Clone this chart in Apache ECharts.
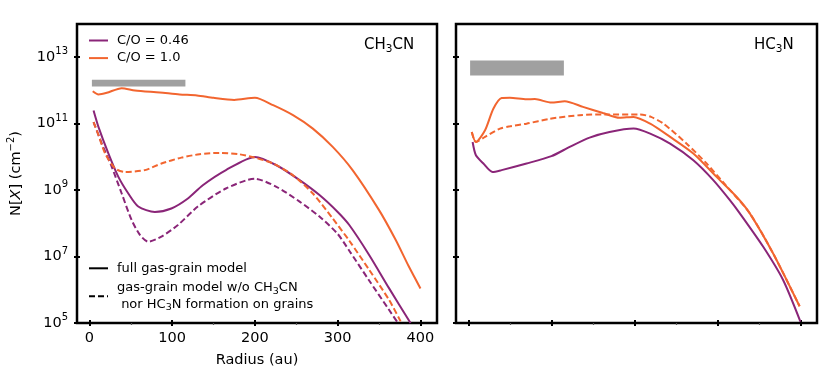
<!DOCTYPE html>
<html lang="en">
<head>
<meta charset="UTF-8">
<title>CH3CN / HC3N column densities</title>
<script src="https://cdn.jsdelivr.net/npm/echarts@6/dist/echarts.min.js"></script>
<style>
  html, body { margin: 0; padding: 0; background: #fff; }
  #chart { width: 830px; height: 378px; }
</style>
</head>
<body>
<div id="chart"></div>
<script>
// values: radius in au, column density in cm^-2

// CH3CN panel
var ch3cnLowR = [5, 11, 23, 35, 47, 59, 79, 99, 119, 137, 165, 200, 226, 254, 278, 300, 314, 338, 362, 388];
var ch3cnLowN = [2.5e11, 7.9e10, 1.26e10, 2.5e9, 7.9e8, 3.2e8, 2.2e8, 2.8e8, 5.6e8, 1.4e9, 4.0e9, 1.0e10, 5.6e9, 2.0e9, 7.1e8, 2.2e8, 8.9e7, 1.12e7, 1.12e6, 1.0e5];
var ch3cnLowNoGrainR = [5, 15, 27, 39, 51, 61, 71, 87, 107, 131, 165, 200, 226, 254, 278, 300, 314, 338, 362, 372];
var ch3cnLowNoGrainN = [1.12e11, 2.5e10, 5.0e9, 7.9e8, 1.26e8, 4.5e7, 2.8e7, 4.0e7, 8.9e7, 3.2e8, 1.12e9, 2.2e9, 1.26e9, 4.5e8, 1.6e8, 4.8e7, 1.5e7, 1.9e6, 2.5e5, 1.07e5];
var ch3cnHighR = [4, 11, 21, 39, 55, 85, 109, 130, 150, 175, 200, 222, 246, 270, 294, 318, 350, 370, 386, 400];
var ch3cnHighN = [9.5e11, 7.6e11, 8.5e11, 1.17e12, 1.0e12, 8.7e11, 7.6e11, 7.1e11, 6.0e11, 5.2e11, 6.0e11, 3.6e11, 1.8e11, 7.1e10, 2.0e10, 4.0e9, 2.5e8, 3.2e7, 5.0e6, 1.1e6];
var ch3cnHighNoGrainR = [5, 11, 19, 31, 43, 67, 87, 111, 133, 157, 181, 200, 222, 246, 270, 294, 314, 338, 362, 376];
var ch3cnHighNoGrainN = [1.12e11, 4.5e10, 1.26e10, 4.5e9, 3.5e9, 4.0e9, 6.3e9, 9.5e9, 1.2e10, 1.32e10, 1.2e10, 9.5e9, 6.3e9, 2.8e9, 7.9e8, 1.4e8, 3.0e7, 4.0e6, 5.0e5, 1.12e5];

// HC3N panel
var hc3nLowR = [5, 9, 18, 29, 40, 70, 100, 122, 146, 170, 199, 219, 243, 271, 295, 315, 327, 355, 379, 400];
var hc3nLowN = [2.8e10, 1.12e10, 6.3e9, 3.5e9, 4.0e9, 6.3e9, 1.05e10, 2.0e10, 3.8e10, 5.6e10, 7.1e10, 5.0e10, 2.5e10, 7.9e9, 2.0e9, 5.0e8, 2.0e8, 2.0e7, 2.0e6, 1.1e5];
var hc3nHighR = [4, 9, 20, 30, 40, 50, 70, 80, 100, 116, 138, 162, 182, 199, 219, 243, 271, 299, 323, 339, 367, 399];
var hc3nHighN = [5.6e10, 2.8e10, 6.3e10, 2.8e11, 5.9e11, 6.0e11, 5.4e11, 5.5e11, 4.3e11, 4.7e11, 3.2e11, 2.1e11, 1.5e11, 1.6e11, 1.0e11, 4.0e10, 1.26e10, 2.5e9, 6.3e8, 2.0e8, 1.26e7, 3.2e5];
var hc3nHighNoGrainR = [4, 9, 20, 38, 50, 70, 98, 134, 166, 207, 220, 235, 263, 287, 310, 339, 367, 399];
var hc3nHighNoGrainN = [5.6e10, 2.8e10, 4.0e10, 7.1e10, 8.3e10, 1.0e11, 1.4e11, 1.8e11, 1.9e11, 1.9e11, 1.6e11, 1.0e11, 2.5e10, 6.3e9, 1.4e9, 2.0e8, 1.26e7, 3.2e5];

// observed ranges (grey bars): [rFrom, rTo, nLow, nHigh]
var ch3cnObs = [3, 116, 1.32e12, 2.1e12];
var hc3nObs = [2, 115, 2.8e12, 7.9e12];

var xTicks = [0, 100, 200, 300, 400];
var xMinorTicks = [50, 150, 250, 350];
var yTicks = [1e5, 1e7, 1e9, 1e11, 1e13];

var PURPLE = '#8a2578';
var ORANGE = '#f2652f';
var FONT = 'DejaVu Sans';

function pairs(r, n) {
    return r.map(function (x, i) { return [x, n[i]]; });
}

function xAxesFor(g, withLabels) {
    var base = {
        type: 'value', gridIndex: g, min: -15, max: 420, position: 'bottom',
        splitLine: { show: false }, axisLine: { show: false, onZero: false }
    };
    return [
        Object.assign({}, base, {
            axisTick: { inside: false, length: 3, customValues: xTicks, lineStyle: { color: '#000', width: 2 } },
            axisLabel: { show: withLabels, customValues: xTicks, color: '#000', fontFamily: FONT, fontSize: 14.5, margin: 8 },
            name: withLabels ? 'Radius (au)' : '', nameLocation: 'middle', nameGap: 30,
            nameTextStyle: { color: '#000', fontFamily: FONT, fontSize: 14.5 }
        }),
        Object.assign({}, base, {
            axisTick: { inside: true, length: 3, customValues: xTicks, lineStyle: { color: '#000', width: 2 } },
            axisLabel: { show: false }
        }),
        Object.assign({}, base, {
            axisTick: { inside: false, length: 2, customValues: xMinorTicks, lineStyle: { color: '#555', width: 1.2 } },
            axisLabel: { show: false }
        })
    ];
}

function yAxesFor(g, withLabels) {
    var base = {
        type: 'log', logBase: 10, gridIndex: g, min: 1e5, max: 1e14, position: 'left',
        splitLine: { show: false }, axisLine: { show: false, onZero: false }
    };
    return [
        Object.assign({}, base, {
            axisTick: { inside: false, length: 3, customValues: yTicks, lineStyle: { color: '#000', width: 2 } },
            axisLabel: {
                show: withLabels, customValues: yTicks, margin: 9,
                formatter: function (v) {
                    return '{b|10}{e|' + Math.round(Math.log10(v)) + '}';
                },
                rich: {
                    b: { fontSize: 14.5, fontFamily: FONT, color: '#000' },
                    e: { fontSize: 10, fontFamily: FONT, color: '#000', padding: [0, 0, 11, 0] }
                }
            },
            name: withLabels ? 'N[{i|X}] (cm{s|\u22122})' : '', nameLocation: 'middle', nameGap: 50,
            nameTextStyle: {
                color: '#000', fontFamily: FONT, fontSize: 14.5,
                rich: {
                    i: { fontSize: 14.5, fontFamily: FONT, fontStyle: 'italic', color: '#000' },
                    s: { fontSize: 10, fontFamily: FONT, color: '#000', padding: [0, 0, 11, 0] }
                }
            }
        }),
        Object.assign({}, base, {
            axisTick: { inside: true, length: 3, customValues: yTicks, lineStyle: { color: '#000', width: 2 } },
            axisLabel: { show: false }
        })
    ];
}

function lineSeries(name, xi, yi, r, n, color, dashed) {
    return {
        name: name, type: 'line', xAxisIndex: xi, yAxisIndex: yi,
        data: pairs(r, n), symbol: 'none', showSymbol: false,
        smooth: 0.25,
        lineStyle: { color: color, width: 2, type: dashed ? [6, 3] : 'solid' },
        itemStyle: { color: color }
    };
}

function obsSeries(xi, yi, obs) {
    return {
        type: 'line', xAxisIndex: xi, yAxisIndex: yi, data: [], silent: true,
        markArea: {
            silent: true,
            itemStyle: { color: '#a0a0a0' },
            data: [[{ xAxis: obs[0], yAxis: obs[2] }, { xAxis: obs[1], yAxis: obs[3] }]]
        }
    };
}

var chart = echarts.init(document.getElementById('chart'), null, { renderer: 'canvas' });

var subRich = {
    s: { fontSize: 9.5, fontFamily: FONT, color: '#000', padding: [7, 0, 0, 0] }
};

var option = {
    animation: false,
    backgroundColor: '#fff',
    grid: [
        { left: 77, top: 24, width: 360, height: 299, show: true, borderColor: '#000', borderWidth: 2.5, backgroundColor: 'transparent' },
        { left: 456, top: 24, width: 361, height: 299, show: true, borderColor: '#000', borderWidth: 2.5, backgroundColor: 'transparent' }
    ],
    title: [
        { text: 'CH{s|3}CN', left: 364, top: 36, padding: 0,
          textStyle: { fontFamily: FONT, fontSize: 15, fontWeight: 'normal', color: '#000', rich: { s: { fontSize: 10.5, fontFamily: FONT, color: '#000', padding: [8, 0, 0, 0] } } } },
        { text: 'HC{s|3}N', left: 754, top: 36, padding: 0,
          textStyle: { fontFamily: FONT, fontSize: 15, fontWeight: 'normal', color: '#000', rich: { s: { fontSize: 10.5, fontFamily: FONT, color: '#000', padding: [8, 0, 0, 0] } } } }
    ],
    legend: [
        {
            data: ['C/O = 0.46', 'C/O = 1.0'], orient: 'vertical', left: 88, top: 34, padding: 0,
            itemWidth: 19, itemHeight: 14, itemGap: 4.6,
            itemStyle: { opacity: 0 },
            textStyle: { fontFamily: FONT, fontSize: 13, color: '#000', padding: [0, 0, 0, 4] }
        },
        {
            data: ['full', 'nograin'], orient: 'vertical', left: 88, top: 260, padding: 0,
            itemWidth: 19, itemHeight: 14, itemGap: 3,
            itemStyle: { opacity: 0 },
            formatter: function (name) {
                return name === 'full' ? 'full gas-grain model'
                    : 'gas-grain model w/o CH{s|3}CN\n nor HC{s|3}N formation on grains';
            },
            textStyle: { fontFamily: FONT, fontSize: 13, lineHeight: 16.6, color: '#000', padding: [0, 0, 0, 4], rich: subRich }
        }
    ],
    xAxis: xAxesFor(0, true).concat(xAxesFor(1, false)),
    yAxis: yAxesFor(0, true).concat(yAxesFor(1, false)),
    series: [
        lineSeries('C/O = 0.46', 0, 0, ch3cnLowR, ch3cnLowN, PURPLE, false),
        lineSeries('C/O = 1.0', 0, 0, ch3cnHighR, ch3cnHighN, ORANGE, false),
        lineSeries('C/O = 0.46 w/o grains', 0, 0, ch3cnLowNoGrainR, ch3cnLowNoGrainN, PURPLE, true),
        lineSeries('C/O = 1.0 w/o grains', 0, 0, ch3cnHighNoGrainR, ch3cnHighNoGrainN, ORANGE, true),
        lineSeries('C/O = 0.46 HC3N', 3, 2, hc3nLowR, hc3nLowN, PURPLE, false),
        lineSeries('C/O = 1.0 HC3N', 3, 2, hc3nHighR, hc3nHighN, ORANGE, false),
        lineSeries('C/O = 1.0 HC3N w/o grains', 3, 2, hc3nHighNoGrainR, hc3nHighNoGrainN, ORANGE, true),
        obsSeries(0, 0, ch3cnObs),
        obsSeries(3, 2, hc3nObs),
        // legend-only entries for the line styles
        lineSeries('full', 0, 0, [], [], '#000', false),
        lineSeries('nograin', 0, 0, [], [], '#000', true)
    ]
};

chart.setOption(option);
</script>
</body>
</html>
